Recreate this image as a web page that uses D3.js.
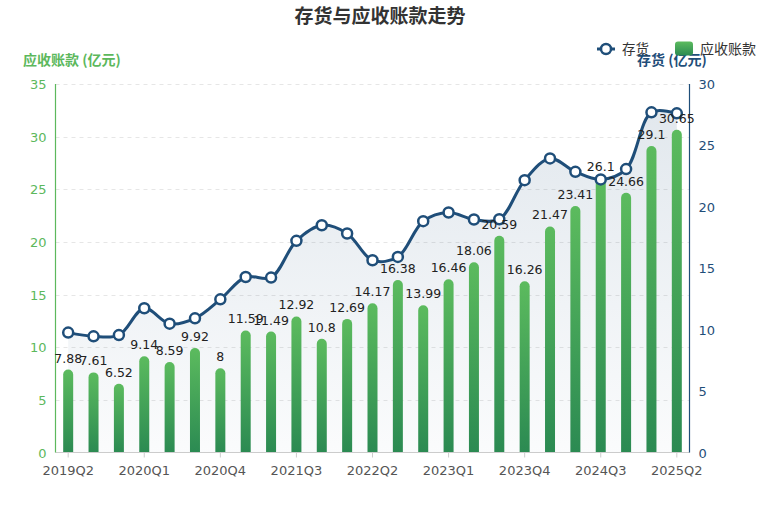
<!DOCTYPE html>
<html><head><meta charset="utf-8">
<script src="https://cdn.jsdelivr.net/npm/d3@7/dist/d3.min.js"></script>
<style>body{margin:0;background:#fff}svg{display:block}</style>
</head><body><svg id="c" width="769" height="507"></svg>
<script>
const categories = ["2019Q2","2019Q3","2019Q4","2020Q1","2020Q2","2020Q3","2020Q4","2021Q1","2021Q2","2021Q3","2021Q4","2022Q1","2022Q2","2022Q3","2022Q4","2023Q1","2023Q2","2023Q3","2023Q4","2024Q1","2024Q2","2024Q3","2024Q4","2025Q1","2025Q2"];
const receivables = [7.88,7.61,6.52,9.14,8.59,9.92,8,11.59,11.49,12.92,10.8,12.69,14.17,16.38,13.99,16.46,18.06,20.59,16.26,21.47,23.41,26.1,24.66,29.1,30.65];
const inventory = [9.76,9.46,9.56,11.74,10.49,10.92,12.47,14.29,14.24,17.23,18.5,17.83,15.65,15.92,18.83,19.54,18.97,18.99,22.17,23.94,22.85,22.23,23.07,27.69,27.61];
const leftTicks = [0,5,10,15,20,25,30,35];
const rightTicks = [0,5,10,15,20,25,30];
const xTickLabels = ["2019Q2","2020Q1","2020Q4","2021Q3","2022Q2","2023Q1","2023Q4","2024Q3","2025Q2"];

const BLUE = "#1f4e79", GREEN = "#5cb85c";
const svg = d3.select("#c");
const L = 55.5, R = 689.5, T = 84, B = 452.5;
const x = d3.scaleBand().domain(categories).range([L, R]);
const yL = d3.scaleLinear().domain([0,35]).range([B, T]);
const yR = d3.scaleLinear().domain([0,30]).range([B, T]);
const cx = d => x(d) + x.bandwidth()/2;
const font = "'DejaVu Sans', sans-serif";
const cjk = "'Noto Sans CJK SC', sans-serif";

const defs = svg.append("defs");
const gb = defs.append("linearGradient").attr("id","gb").attr("x1",0).attr("y1",0).attr("x2",0).attr("y2",1);
gb.append("stop").attr("offset","0%").attr("stop-color","#5cbb5e");
gb.append("stop").attr("offset","100%").attr("stop-color","#2b8a52");
const ga = defs.append("linearGradient").attr("id","ga").attr("x1",0).attr("y1",0).attr("x2",0).attr("y2",1);
ga.append("stop").attr("offset","0%").attr("stop-color",BLUE).attr("stop-opacity",0.13);
ga.append("stop").attr("offset","100%").attr("stop-color",BLUE).attr("stop-opacity",0.02);

// title
svg.append("text").attr("x",380).attr("y",23).attr("text-anchor","middle")
  .attr("font-family",cjk).attr("font-weight","bold").attr("font-size",19).attr("fill","#333")
  .text("存货与应收账款走势");

// grid
svg.append("g").selectAll("line").data(leftTicks.filter(d=>d>0)).join("line")
  .attr("x1",L).attr("x2",R).attr("y1",d=>Math.round(yL(d))+0.5).attr("y2",d=>Math.round(yL(d))+0.5)
  .attr("stroke","#e6e6e6").attr("stroke-dasharray","4,4");

// area
const area = d3.area().x((d,i)=>cx(categories[i])).y0(B).y1(d=>yR(d)).curve(d3.curveCatmullRom.alpha(0.5));
svg.append("path").datum(inventory).attr("d",area).attr("fill","url(#ga)");

// bars
const bw = 10;
svg.append("g").selectAll("path").data(receivables).join("path")
  .attr("d",(d,i)=>{
    const x0 = cx(categories[i]) - bw/2, y0 = yL(d), r = bw/2;
    return `M${x0},${B}V${y0+r}A${r},${r} 0 0 1 ${x0+bw},${y0+r}V${B}Z`;
  })
  .attr("fill","url(#gb)");

// axes lines
svg.append("line").attr("x1",L).attr("x2",R).attr("y1",B).attr("y2",B).attr("stroke","#cccccc");
svg.append("line").attr("x1",L).attr("x2",L).attr("y1",T).attr("y2",B).attr("stroke",GREEN).attr("stroke-width",1.2);
svg.append("line").attr("x1",R).attr("x2",R).attr("y1",T).attr("y2",B).attr("stroke",BLUE).attr("stroke-width",1.2);

// x ticks
const xt = svg.append("g").selectAll("g").data(xTickLabels).join("g");
xt.append("line").attr("x1",d=>cx(d)).attr("x2",d=>cx(d)).attr("y1",B).attr("y2",B+5).attr("stroke","#cccccc");
xt.append("text").attr("x",d=>cx(d)).attr("y",B+22).attr("text-anchor","middle")
  .attr("font-family",font).attr("font-size",13).attr("fill","#555").text(d=>d);

// left ticks
svg.append("g").selectAll("text").data(leftTicks).join("text")
  .attr("x",L-9).attr("y",d=>yL(d)+5).attr("text-anchor","end")
  .attr("font-family",font).attr("font-size",13).attr("fill",GREEN).text(d=>d);
// right ticks
svg.append("g").selectAll("text").data(rightTicks).join("text")
  .attr("x",R+9).attr("y",d=>yR(d)+5).attr("text-anchor","start")
  .attr("font-family",font).attr("font-size",13).attr("fill",BLUE).text(d=>d);

// axis names
svg.append("text").attr("x",23).attr("y",65).attr("font-family",cjk).attr("font-weight","bold")
  .attr("font-size",14).attr("fill",GREEN).text("应收账款 (亿元)");
svg.append("text").attr("x",672).attr("y",65).attr("text-anchor","middle").attr("font-family",cjk).attr("font-weight","bold")
  .attr("font-size",14).attr("fill",BLUE).text("存货 (亿元)");

// line
const line = d3.line().x((d,i)=>cx(categories[i])).y(d=>yR(d)).curve(d3.curveCatmullRom.alpha(0.5));
svg.append("path").datum(inventory).attr("d",line).attr("fill","none").attr("stroke",BLUE).attr("stroke-width",3);
svg.append("g").selectAll("circle").data(inventory).join("circle")
  .attr("cx",(d,i)=>cx(categories[i])).attr("cy",d=>yR(d)).attr("r",5)
  .attr("fill","#fff").attr("stroke",BLUE).attr("stroke-width",2.5);

// bar labels
svg.append("g").selectAll("text").data(receivables).join("text")
  .attr("x",(d,i)=>cx(categories[i])).attr("y",d=>yL(d)-7).attr("text-anchor","middle")
  .attr("font-family",font).attr("font-size",12.5).attr("fill","#222").text(d=>d);

// legend
const lg = svg.append("g");
lg.append("line").attr("x1",597).attr("x2",615).attr("y1",49).attr("y2",49).attr("stroke",BLUE).attr("stroke-width",3);
lg.append("circle").attr("cx",606).attr("cy",49).attr("r",5).attr("fill","#fff").attr("stroke",BLUE).attr("stroke-width",2.5);
lg.append("text").attr("x",622).attr("y",54).attr("font-family",cjk).attr("font-size",13.5).attr("fill","#333").text("存货");
lg.append("rect").attr("x",675).attr("y",41.5).attr("width",18).attr("height",14).attr("rx",3).attr("fill","url(#gb)");
lg.append("text").attr("x",700).attr("y",54).attr("font-family",cjk).attr("font-size",14).attr("fill","#333").text("应收账款");
</script></body></html>
